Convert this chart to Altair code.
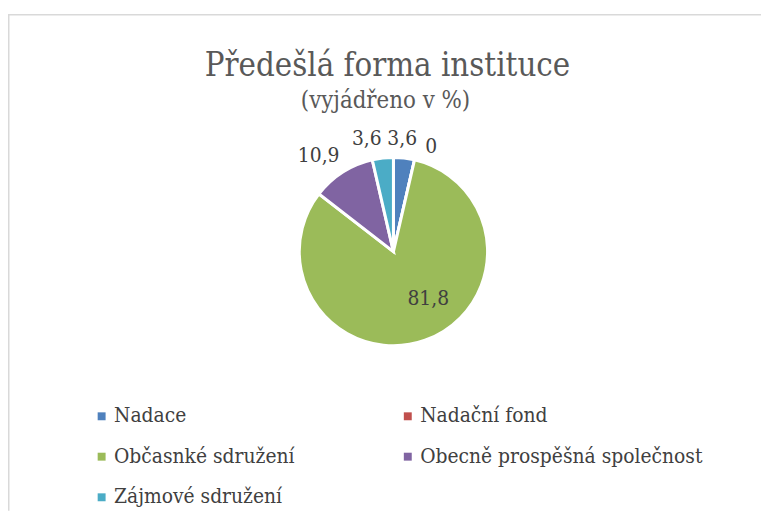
import math
import altair as alt
import pandas as pd

# ---- data ----
categories = [
    "Nadace",
    "Nadační fond",
    "Občasnké sdružení",
    "Obecně prospěšná společnost",
    "Zájmové sdružení",
]
values = [3.6, 0, 81.8, 10.9, 3.6]
value_labels = ["3,6", "0", "81,8", "10,9", "3,6"]
colors = ["#4F81BD", "#C0504D", "#9BBB59", "#8064A2", "#4BACC6"]
title_text = ["Předešlá forma instituce"]
subtitle_text = ["(vyjádřeno v %)"]

df = pd.DataFrame(
    {"idx": list(range(len(categories))), "category": categories,
     "value": values, "label": value_labels}
)

W, H = 760, 505
CX, CY = 389, 243.5
R = 95
FONT = "DejaVu Serif Condensed"
LABEL_COLOR = "#404040"
TITLE_COLOR = "#595959"

theta_scale = alt.Scale(domain=[0, 1], range=[0, 2 * math.pi])

base = (
    alt.Chart(df)
    .transform_window(cum="sum(value)", sort=[alt.SortField("idx", order="ascending")], frame=[None, 0])
    .transform_joinaggregate(total="sum(value)")
    .transform_calculate(
        start="(datum.cum - datum.value) / datum.total",
        end="datum.cum / datum.total",
        mid="(datum.cum - datum.value / 2) / datum.total",
    )
)

arcs = base.mark_arc(outerRadius=R, stroke="white", strokeWidth=3).encode(
    theta=alt.Theta("start:Q", stack=None, scale=theta_scale),
    theta2="end:Q",
    x=alt.value(CX),
    y=alt.value(CY),
    color=alt.Color(
        "category:N",
        scale=alt.Scale(domain=categories, range=colors),
        legend=alt.Legend(
            title=None,
            orient="none",
            legendX=84,
            legendY=399,
            direction="horizontal",
            columns=2,
            symbolType="square",
            symbolSize=64,
            symbolStrokeWidth=0,
            labelFont=FONT,
            labelFontSize=21,
            labelColor=LABEL_COLOR,
            labelLimit=500,
            rowPadding=19,
            columnPadding=103,
            labelOffset=2,
            gridAlign="each",
        ),
    ),
    order=alt.Order("idx:Q"),
)


def value_text(cond, r, dx):
    return (
        base.transform_filter(cond)
        .mark_text(radius=r, dx=dx, font=FONT, fontSize=21, color=LABEL_COLOR,
                   align="center", baseline="middle")
        .encode(
            theta=alt.Theta("mid:Q", stack=None, scale=theta_scale),
            x=alt.value(CX),
            y=alt.value(CY),
            text="label:N",
        )
    )


lab_big = value_text("datum.value > 50", 51, 18)
lab_right = value_text("datum.value > 0 && datum.value <= 50 && datum.mid < 0.5", 114, -4)
lab_zero = value_text("datum.value == 0", 108, 14)
lab_left = value_text("datum.value <= 50 && datum.mid >= 0.5", 114, -14)

title = alt.Chart(pd.DataFrame({"t": title_text})).mark_text(
    font=FONT, fontSize=33, color=TITLE_COLOR, align="center", baseline="alphabetic"
).encode(x=alt.value(383), y=alt.value(66), text="t:N")

subtitle = alt.Chart(pd.DataFrame({"t": subtitle_text})).mark_text(
    font=FONT, fontSize=24, color=TITLE_COLOR, align="center", baseline="alphabetic"
).encode(x=alt.value(381), y=alt.value(99), text="t:N")

one = pd.DataFrame({"a": [0]})
border_top = alt.Chart(one).mark_rule(color="#D9D9D9", strokeWidth=1.5).encode(
    x=alt.value(0), x2=alt.value(W), y=alt.value(4.5)
)
border_left = alt.Chart(one).mark_rule(color="#D9D9D9", strokeWidth=1.5).encode(
    x=alt.value(0.75), y=alt.value(4.5), y2=alt.value(H)
)

chart = (
    alt.layer(border_top, border_left, arcs, lab_big, lab_right, lab_zero, lab_left, title, subtitle)
    .properties(width=W, height=H, padding=0, autosize=alt.AutoSizeParams(type="none"),
                background="white")
    .configure_view(stroke=None)
)

chart.save("out.html", embed_options={"renderer": "svg", "actions": False})
